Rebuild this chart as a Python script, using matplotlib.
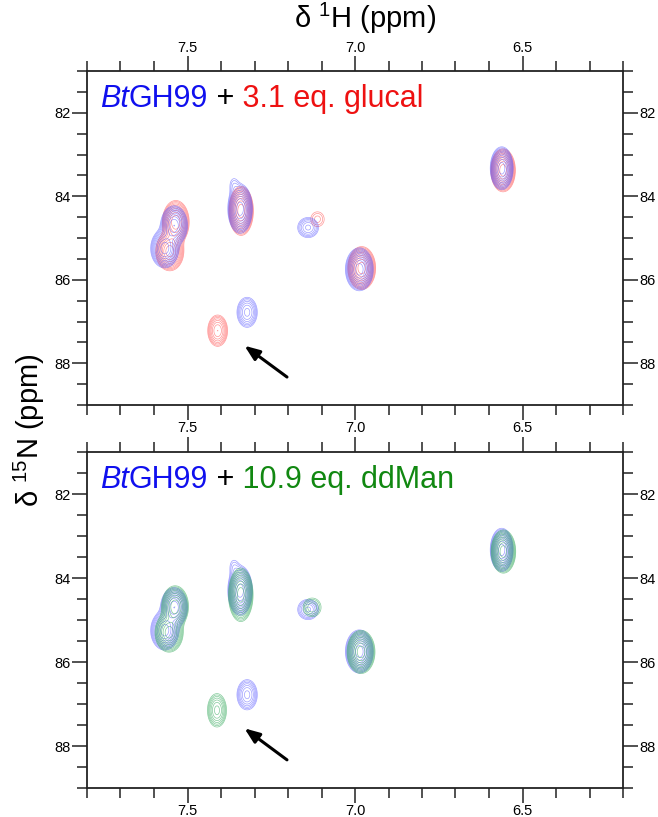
import numpy as np
import matplotlib
matplotlib.use("Agg")
import matplotlib.pyplot as plt
from matplotlib.ticker import MultipleLocator

plt.rcParams['font.family'] = ['Liberation Sans', 'DejaVu Sans']
plt.rcParams['mathtext.fontset'] = 'custom'
plt.rcParams['mathtext.rm'] = 'Liberation Sans'
plt.rcParams['mathtext.it'] = 'Liberation Sans:italic'

# ---------------- data (peak lists) ----------------
# apo BtGH99 (blue), shown in both panels
apo_h   = [6.562, 7.343, 7.540, 7.568, 7.140, 6.987, 7.322, 7.362]
apo_n   = [83.33, 84.30, 84.70, 85.25, 84.75, 85.75, 86.78, 83.72]
apo_amp = [1.00, 1.00, 0.80, 0.75, 0.22, 1.00, 0.30, 0.07]
apo_sh  = [0.014, 0.015, 0.017, 0.018, 0.018, 0.017, 0.016, 0.011]
apo_sn  = [0.21, 0.24, 0.20, 0.20, 0.14, 0.21, 0.19, 0.15]

# + 3.1 eq. glucal (red)
glu_h   = [6.558, 7.340, 7.535, 7.553, 7.112, 6.980, 7.410]
glu_n   = [83.38, 84.35, 84.62, 85.32, 84.55, 85.72, 87.22]
glu_amp = [1.00, 1.00, 0.80, 0.75, 0.10, 1.00, 0.35]
glu_sh  = [0.015, 0.015, 0.017, 0.018, 0.017, 0.017, 0.015]
glu_sn  = [0.21, 0.24, 0.22, 0.20, 0.15, 0.21, 0.19]

# + 10.9 eq. ddMan (green)
ddm_h   = [6.557, 7.341, 7.537, 7.555, 7.128, 6.982, 7.412]
ddm_n   = [83.37, 84.40, 84.68, 85.30, 84.70, 85.76, 87.15]
ddm_amp = [1.00, 1.00, 0.80, 0.75, 0.15, 1.00, 0.30]
ddm_sh  = [0.015, 0.015, 0.017, 0.018, 0.018, 0.017, 0.015]
ddm_sn  = [0.21, 0.26, 0.21, 0.20, 0.15, 0.21, 0.21]

x_ticks = [7.5, 7.0, 6.5]
y_ticks = [82, 84, 86, 88]
arrow_tail = (7.203, 88.33)
arrow_head = (7.330, 87.58)

# ---------------- helpers ----------------
H = np.linspace(6.2, 7.8, 800)
N = np.linspace(81, 89, 500)
HH, NN = np.meshgrid(H, N)


def spectrum(hs, ns, amps, shs, sns):
    z = np.zeros_like(HH)
    for h, n, a, sh, sn in zip(hs, ns, amps, shs, sns):
        z += a * np.exp(-0.5 * (((HH - h) / sh) ** 2 + ((NN - n) / sn) ** 2))
    return z


levels = 0.05 * 1.32 ** np.arange(11)

fig = plt.figure(figsize=(6.58, 8.17), dpi=100)
ax1 = fig.add_axes([87 / 658, 1 - 405 / 817, 536 / 658, 334 / 817])
ax2 = fig.add_axes([87 / 658, 1 - 788 / 817, 536 / 658, 336 / 817])

z_apo = spectrum(apo_h, apo_n, apo_amp, apo_sh, apo_sn)
z_glu = spectrum(glu_h, glu_n, glu_amp, glu_sh, glu_sn)
z_ddm = spectrum(ddm_h, ddm_n, ddm_amp, ddm_sh, ddm_sn)

ax1.contour(HH, NN, z_glu, levels=levels, colors='#ff5050', linewidths=0.5, alpha=0.6)
ax1.contour(HH, NN, z_apo, levels=levels, colors='#5050ff', linewidths=0.5, alpha=0.55)
ax2.contour(HH, NN, z_apo, levels=levels, colors='#5050ff', linewidths=0.5, alpha=0.55)
ax2.contour(HH, NN, z_ddm, levels=levels, colors='#30a858', linewidths=0.5, alpha=0.6)

for ax, labtop, labbot in [(ax1, True, True), (ax2, False, True)]:
    ax.set_xlim(7.8, 6.2)
    ax.set_ylim(89, 81)
    ax.set_xticks(x_ticks)
    ax.set_yticks(y_ticks)
    ax.xaxis.set_minor_locator(MultipleLocator(0.1))
    ax.yaxis.set_minor_locator(MultipleLocator(0.5))
    ax.tick_params(which='both', direction='out', top=True, bottom=True, left=True, right=True,
                   labelleft=True, labelright=True, labeltop=labtop, labelbottom=labbot,
                   width=1.1, labelsize=10.5, pad=0.5, color='#222222')
    ax.tick_params(which='major', length=11)
    ax.tick_params(which='minor', length=7)
    for s in ax.spines.values():
        s.set_linewidth(1.3)
        s.set_color('#222222')
    ax.annotate('', xy=arrow_head, xytext=arrow_tail,
                arrowprops=dict(arrowstyle='-|>,head_length=0.9,head_width=0.35',
                                color='black', lw=2.2, shrinkA=0, shrinkB=0))


def label(ax, ligand, color):
    t = ax.text(0.024, 0.892, 'Bt', transform=ax.transAxes, fontsize=22, color='#1010ee',
                style='italic', va='baseline', ha='left')
    t = ax.annotate('GH99', xy=(1, 0), xycoords=t, fontsize=22, color='#1010ee', va='bottom')
    t = ax.annotate(' +', xy=(1, 0), xycoords=t, fontsize=22, color='black', va='bottom')
    ax.annotate(' ' + ligand, xy=(1, 0), xycoords=t, fontsize=22, color=color, va='bottom')


label(ax1, '3.1 eq. glucal', '#ee1111')
label(ax2, '10.9 eq. ddMan', '#118811')

fig.text(0.555, 0.978, r'δ $^{\mathrm{1}}$H (ppm)', fontsize=21, ha='center', va='center')
fig.text(0.045, 0.474, r'δ $^{\mathrm{15}}$N (ppm)', fontsize=21, ha='center', va='center',
         rotation=90)

fig.savefig('out.png', dpi=100)
